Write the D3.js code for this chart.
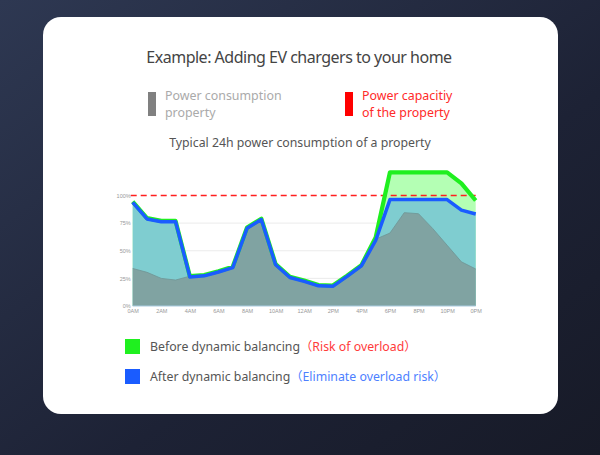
<!DOCTYPE html>
<html>
<head>
<meta charset="utf-8">
<script src="https://cdn.jsdelivr.net/npm/d3@7"></script>
<style>
  body { margin: 0; background: #1c2133; }
  svg { display: block; font-family: "Noto Sans", "Noto Sans CJK SC", sans-serif; }
</style>
</head>
<body>
<div id="chart"></div>
<script>
const width = 600;
const height = 455;

// hourly values, % of the property's capacity
const hours = d3.range(0, 25);
const baseLoad = [34, 30.5, 25, 23.5, 27, 28, 31.5, 35.5, 71, 79, 38, 26.5, 23, 19, 18.5, 27.5, 37, 60.5, 66, 84.5, 83.5, 70, 55, 40, 33.5];
const afterBalancing = [94.5, 79.5, 77, 77, 27, 28, 31.5, 35.5, 71, 79, 38, 26.5, 23, 19, 18.5, 27.5, 37, 60, 97, 97, 97, 97, 97, 87.5, 84];
const beforeBalancing = [94.5, 79.5, 77, 77, 27, 28, 31.5, 35.5, 71, 79, 38, 26.5, 23, 19, 18.5, 27.5, 37, 62, 121, 121, 121, 121, 121, 111, 95.5];
const capacity = 100;
const yTicks = [0, 25, 50, 75, 100];
const xTickLabels = ["0AM", "2AM", "4AM", "6AM", "8AM", "10AM", "12AM", "2PM", "4PM", "6PM", "8PM", "10PM", "0PM"];

const svg = d3.select("#chart")
    .append("svg")
    .attr("width", width)
    .attr("height", height);

// background gradient
const defs = svg.append("defs");
const bg = defs.append("linearGradient")
    .attr("id", "bg")
    .attr("x1", "0%").attr("y1", "0%")
    .attr("x2", "100%").attr("y2", "100%");
bg.append("stop").attr("offset", "0%").attr("stop-color", "#2e3852");
bg.append("stop").attr("offset", "60%").attr("stop-color", "#1d2235");
bg.append("stop").attr("offset", "100%").attr("stop-color", "#171a27");

svg.append("rect")
    .attr("width", width)
    .attr("height", height)
    .attr("fill", "url(#bg)");

// card
svg.append("rect")
    .attr("x", 43)
    .attr("y", 17)
    .attr("width", 515)
    .attr("height", 397)
    .attr("rx", 18)
    .attr("fill", "#ffffff");

// title
svg.append("text")
    .attr("x", 299)
    .attr("y", 63)
    .attr("text-anchor", "middle")
    .attr("font-size", 16)
    .attr("fill", "#444")
    .attr("letter-spacing", -0.5)
    .text("Example: Adding EV chargers to your home");

// top legend
const topLegend = [
    { color: "#808080", text: "#aaaaaa", x: 148, lines: ["Power consumption", "property"] },
    { color: "#ff0000", text: "#ff2a2a", x: 345, lines: ["Power capacitiy", "of the property"] }
];
topLegend.forEach(d => {
    svg.append("rect")
        .attr("x", d.x)
        .attr("y", 92)
        .attr("width", 8)
        .attr("height", 24)
        .attr("fill", d.color);
    d.lines.forEach((l, i) => {
        svg.append("text")
            .attr("x", d.x + 17)
            .attr("y", 100 + i * 16.5)
            .attr("font-size", 12.4)
            .attr("fill", d.text)
            .text(l);
    });
});

svg.append("text")
    .attr("x", 300)
    .attr("y", 147)
    .attr("text-anchor", "middle")
    .attr("font-size", 12.3)
    .attr("fill", "#555")
    .text("Typical 24h power consumption of a property");

// chart
const x = d3.scaleLinear().domain([0, 24]).range([132.7, 475.7]);
const y = d3.scaleLinear().domain([0, 100]).range([306, 195.5]);

const g = svg.append("g");

// gridlines
g.selectAll(".grid")
    .data([25, 50, 75])
    .join("line")
    .attr("x1", x(0))
    .attr("x2", x(24))
    .attr("y1", d => y(d))
    .attr("y2", d => y(d))
    .attr("stroke", "#e6e6e6")
    .attr("stroke-width", 0.8);

const area = vals => d3.area()
    .x(d => x(d))
    .y0(y(0))
    .y1(d => y(vals[d]))(hours);

const line = vals => d3.line()
    .x(d => x(d))
    .y(d => y(vals[d]))(hours);

g.append("path")
    .attr("d", area(beforeBalancing))
    .attr("fill", "#b4ffb4");

g.append("path")
    .attr("d", area(afterBalancing))
    .attr("fill", "#7fcdd0");

g.append("path")
    .attr("d", area(baseLoad))
    .attr("fill", "#80a3a2");

g.append("path")
    .attr("d", line(baseLoad))
    .attr("fill", "none")
    .attr("stroke", "#6f9494")
    .attr("stroke-width", 0.8);

// x axis base line
g.append("line")
    .attr("x1", x(0))
    .attr("x2", x(24))
    .attr("y1", y(0))
    .attr("y2", y(0))
    .attr("stroke", "#a9cbe0")
    .attr("stroke-width", 1);

// capacity line
g.append("line")
    .attr("x1", x(0) - 2)
    .attr("x2", x(24))
    .attr("y1", y(capacity))
    .attr("y2", y(capacity))
    .attr("stroke", "#ff1f1f")
    .attr("stroke-width", 1.5)
    .attr("stroke-dasharray", "6,4");

g.append("path")
    .attr("d", line(beforeBalancing))
    .attr("fill", "none")
    .attr("stroke", "#1fef1f")
    .attr("stroke-width", 4.2)
    .attr("stroke-linejoin", "round");

g.append("path")
    .attr("d", line(afterBalancing))
    .attr("fill", "none")
    .attr("stroke", "#1a5cff")
    .attr("stroke-width", 3.5)
    .attr("stroke-linejoin", "round")
    .attr("transform", "translate(0,0.8)");

// axes labels
const yAxis = d3.axisLeft(y)
    .tickValues(yTicks)
    .tickSize(0)
    .tickPadding(2)
    .tickFormat(d => d + "%");
g.append("g")
    .attr("transform", `translate(${x(0)},0)`)
    .call(yAxis)
    .call(s => s.select(".domain").remove())
    .call(s => s.selectAll("text").attr("font-size", 5.5).attr("fill", "#999").attr("font-family", "inherit"));

const xAxis = d3.axisBottom(x)
    .tickValues(d3.range(0, 25, 2))
    .tickSize(0)
    .tickPadding(3)
    .tickFormat((d, i) => xTickLabels[i]);
g.append("g")
    .attr("transform", `translate(0,${y(0)})`)
    .call(xAxis)
    .call(s => s.select(".domain").remove())
    .call(s => s.selectAll("text").attr("font-size", 5.5).attr("fill", "#999").attr("font-family", "inherit"));

// bottom legend
const bottomLegend = [
    { color: "#1ff01f", label: "Before dynamic balancing", note: "（Risk of overload）", noteColor: "#ff3b3b", y: 339 },
    { color: "#1a5cff", label: "After dynamic balancing", note: "（Eliminate overload risk）", noteColor: "#4d7fff", y: 369 }
];
bottomLegend.forEach(d => {
    svg.append("rect")
        .attr("x", 125)
        .attr("y", d.y)
        .attr("width", 15)
        .attr("height", 15)
        .attr("fill", d.color);
    const t = svg.append("text")
        .attr("x", 150)
        .attr("y", d.y + 12)
        .attr("font-size", 12.3)
        .attr("fill", "#555");
    t.append("tspan").text(d.label);
    t.append("tspan").attr("fill", d.noteColor).text(d.note);
});
</script>
</body>
</html>
